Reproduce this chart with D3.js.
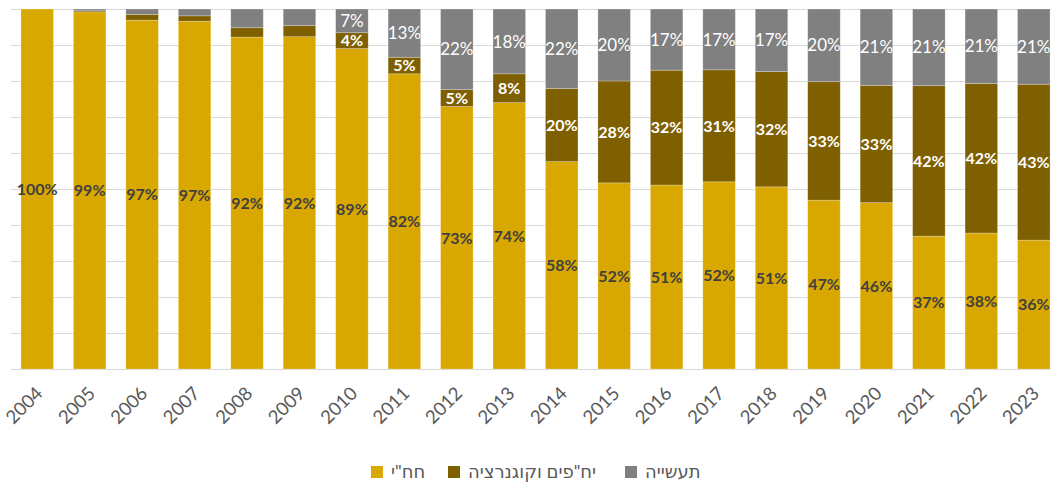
<!DOCTYPE html>
<html>
<head>
<meta charset="utf-8">
<script src="https://cdn.jsdelivr.net/npm/d3@7"></script>
<style>
  body { margin: 0; background: #fff; }
  svg { display: block; font-family: Lato, "Noto Sans", "DejaVu Sans", sans-serif; }
</style>
</head>
<body>
<script>
var years = ["2004", "2005", "2006", "2007", "2008", "2009", "2010", "2011", "2012", "2013",
  "2014", "2015", "2016", "2017", "2018", "2019", "2020", "2021", "2022", "2023"];

// share of generation, %
var iec = [100, 99.2, 96.9, 96.6, 92.2, 92.3, 89.0, 82.0, 72.9, 74.0,
  57.6, 51.7, 51.1, 52.0, 50.6, 46.9, 46.2, 36.9, 37.8, 35.8];
var ipp = [0, 0.3, 1.6, 1.5, 2.6, 3.1, 4.4, 4.6, 4.7, 8.0,
  20.3, 28.3, 31.9, 31.1, 32.0, 32.9, 32.6, 41.8, 41.6, 43.3];
var industry = [0, 0.5, 1.5, 1.9, 5.2, 4.6, 6.6, 13.4, 22.4, 18.0,
  22.1, 20.0, 17.0, 16.9, 17.4, 20.2, 21.2, 21.3, 20.7, 20.9];

var seriesNames = ['חח"י', 'יח"פים וקוגנרציה', "תעשייה"];
var labelFromYear = "2010"; // small segments are unlabeled before this

var width = 1051, height = 484;
var margin = { top: 9, left: 11, right: -9, bottom: 115 };

var keys = ["iec", "ipp", "industry"];
var colors = { iec: "#D9A800", ipp: "#7F6000", industry: "#808080" };

var rows = years.map(function(y, i) {
  return { year: y, iec: iec[i], ipp: ipp[i], industry: industry[i] };
});

var stack = d3.stack().keys(keys).offset(d3.stackOffsetExpand);
var layers = stack(rows);

var x = d3.scaleBand()
  .domain(years)
  .range([margin.left, width - margin.right])
  .paddingInner(0.38)
  .paddingOuter(0.19);

var y = d3.scaleLinear()
  .domain([0, 1])
  .range([height - margin.bottom, margin.top]);

var svg = d3.select("body").append("svg")
  .attr("width", width)
  .attr("height", height);

// gridlines
svg.append("g")
  .selectAll("line")
  .data(d3.range(0, 1.0001, 0.1))
  .enter().append("line")
  .attr("x1", margin.left)
  .attr("x2", width)
  .attr("y1", function(d) { return Math.round(y(d)) + 0.5; })
  .attr("y2", function(d) { return Math.round(y(d)) + 0.5; })
  .attr("stroke", "#D9D9D9")
  .attr("stroke-width", 1);

var layer = svg.selectAll(".layer")
  .data(layers)
  .enter().append("g")
  .attr("class", "layer")
  .attr("fill", function(d) { return colors[d.key]; });

layer.selectAll("rect")
  .data(function(d) { return d; })
  .enter().append("rect")
  .attr("x", function(d) { return x(d.data.year); })
  .attr("width", x.bandwidth())
  .attr("y", function(d) { return y(d[1]); })
  .attr("height", function(d) { return Math.max(0, y(d[0]) - y(d[1])); })
  .attr("stroke", "#fff")
  .attr("stroke-opacity", 0.35)
  .attr("stroke-width", 0.7);

// data labels
layers.forEach(function(l) {
  var g = svg.append("g");
  var data = l.filter(function(d) {
    return l.key == "iec" || d.data.year >= labelFromYear;
  });
  g.selectAll("text")
    .data(data)
    .enter().append("text")
    .attr("x", function(d) { return x(d.data.year) + x.bandwidth() / 2; })
    .attr("y", function(d) { return (y(d[0]) + y(d[1])) / 2; })
    .attr("dy", "0.36em")
    .attr("text-anchor", "middle")
    .attr("font-size", l.key == "industry" ? 17 : 16)
    .attr("font-weight", l.key == "industry" ? "normal" : "bold")
    .attr("fill", l.key == "iec" ? "#404040" : "#fff")
    .text(function(d) { return Math.round(d.data[l.key]) + "%"; });
});

// x axis labels
svg.append("g")
  .selectAll("text")
  .data(years)
  .enter().append("text")
  .attr("transform", function(d) {
    return "translate(" + (x(d) + x.bandwidth() / 2 + 2) + "," + (height - margin.bottom + 21) + ") rotate(-45)";
  })
  .attr("text-anchor", "end")
  .attr("dy", "0.35em")
  .attr("font-size", 18.5)
  .attr("fill", "#595959")
  .text(function(d) { return d; });

// legend
var legendX = [371, 448, 625];
var legend = svg.append("g")
  .selectAll("g")
  .data(keys)
  .enter().append("g")
  .attr("transform", function(d, i) { return "translate(" + legendX[i] + ",466)"; });

legend.append("rect")
  .attr("width", 12)
  .attr("height", 12)
  .attr("fill", function(d) { return colors[d]; });

legend.append("text")
  .attr("x", 20)
  .attr("y", 6)
  .attr("dy", "0.36em")
  .attr("font-size", 18)
  .attr("fill", "#595959")
  .text(function(d, i) { return seriesNames[i]; });
</script>
</body>
</html>
